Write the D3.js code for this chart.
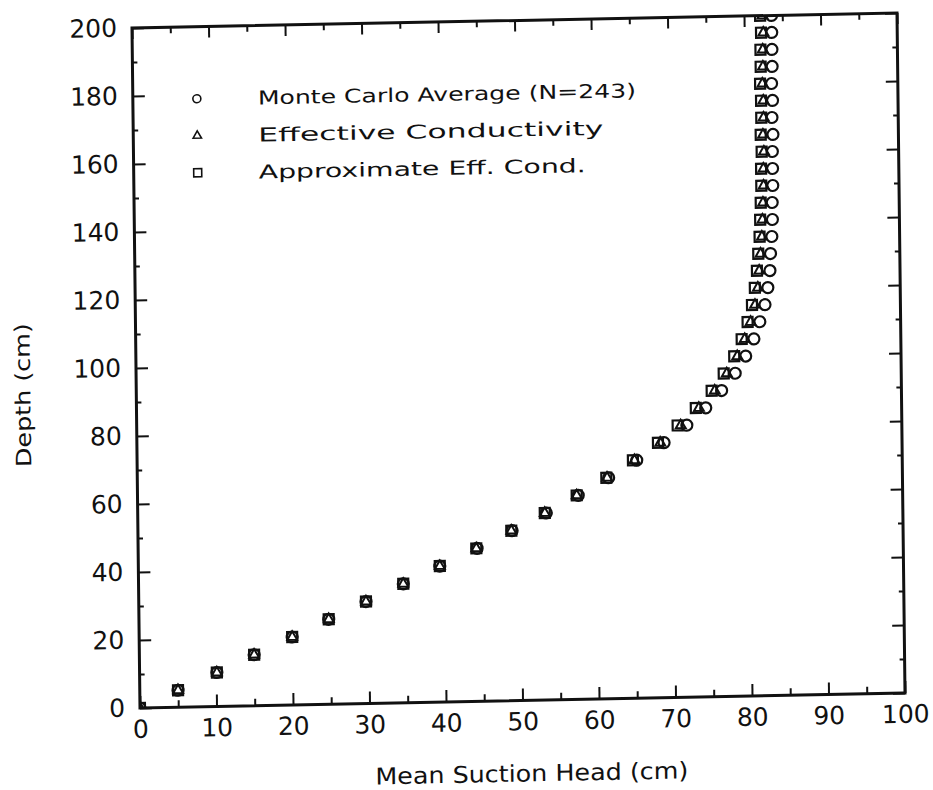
<!DOCTYPE html>
<html>
<head>
<meta charset="utf-8">
<script src="https://cdn.jsdelivr.net/npm/d3@7"></script>
<style>
  body { margin: 0; background: #fff; }
  text { font-family: "DejaVu Sans", sans-serif; fill: #111; }
</style>
</head>
<body>
<svg id="chart" width="933" height="790"></svg>
<script>

// depth (cm) of each simulated node
const depth = [0, 5, 10, 15, 20, 25, 30, 35, 40, 45, 50, 55, 60, 65, 70, 75, 80, 85, 90, 95, 100,
               105, 110, 115, 120, 125, 130, 135, 140, 145, 150, 155, 160, 165, 170, 175, 180, 185, 190, 195, 200];

// mean suction head (cm) for each series
const monteCarlo = [0, 5.0, 10.1, 15.0, 20.0, 24.8, 29.7, 34.6, 39.4, 44.3, 48.9, 53.4, 57.6, 61.6, 65.3, 68.9, 71.9, 74.4, 76.5, 78.3, 79.7,
                    80.8, 81.6, 82.3, 82.7, 83.0, 83.1, 83.3, 83.4, 83.4, 83.5, 83.5, 83.5, 83.6, 83.5, 83.6, 83.5, 83.6, 83.6, 83.6, 83.6];
const effCond    = [0, 5.0, 10.1, 15.0, 20.0, 24.8, 29.7, 34.6, 39.4, 44.2, 48.8, 53.2, 57.4, 61.4, 65.0, 68.4, 71.1, 73.5, 75.6, 77.2, 78.6,
                    79.6, 80.4, 81.0, 81.4, 81.6, 81.8, 82.0, 82.1, 82.2, 82.3, 82.3, 82.4, 82.3, 82.4, 82.4, 82.3, 82.4, 82.4, 82.5, 82.4];
const approxEff  = [0, 5.0, 10.1, 15.0, 20.0, 24.8, 29.7, 34.6, 39.4, 44.2, 48.8, 53.2, 57.4, 61.3, 64.8, 68.1, 70.7, 73.1, 75.2, 76.8, 78.2,
                    79.2, 80.0, 80.6, 81.0, 81.3, 81.5, 81.7, 81.8, 81.9, 82.0, 82.0, 82.1, 82.0, 82.1, 82.1, 82.0, 82.1, 82.1, 82.2, 82.1];

const xTicks = [0, 10, 20, 30, 40, 50, 60, 70, 80, 90, 100];
const xMinor = [5, 15, 25, 35, 45, 55, 65, 75, 85, 95];
const yTicks = [0, 20, 40, 60, 80, 100, 120, 140, 160, 180, 200];
const yMinor = [10, 30, 50, 70, 90, 110, 130, 150, 170, 190];
const legendLabels = ["Monte Carlo Average (N=243)", "Effective Conductivity", "Approximate Eff. Cond."];

let svg = d3.select("svg#chart");
let chartWidth = 765;
let chartHeight = 680;

// the scanned figure sits slightly skewed on the page
let g = svg.append("g").attr("transform", "matrix(1,-0.0196,0.01176,1,132,28)");

let xScale = d3.scaleLinear().domain([0, 100]).range([0, chartWidth]);
let yScale = d3.scaleLinear().domain([0, 200]).range([chartHeight, 0]);

function styleAxis(sel) {
  sel.select(".domain").remove();
  sel.selectAll("line").attr("stroke", "#111").attr("stroke-width", 2);
  sel.selectAll("text").style("font-size", "25px").attr("fill", "#111");
}

// bottom
g.append("g").attr("transform", "translate(0," + chartHeight + ")")
  .call(d3.axisBottom(xScale).tickValues(xTicks).tickSize(-12).tickPadding(12))
  .call(styleAxis);
g.append("g").attr("transform", "translate(0," + chartHeight + ")")
  .call(d3.axisBottom(xScale).tickValues(xMinor).tickSize(-7).tickFormat(""))
  .call(styleAxis);
// top
g.append("g")
  .call(d3.axisTop(xScale).tickValues(xTicks).tickSize(-11).tickFormat(""))
  .call(styleAxis);
g.append("g")
  .call(d3.axisTop(xScale).tickValues(xMinor).tickSize(-6).tickFormat(""))
  .call(styleAxis);
// left
g.append("g")
  .call(d3.axisLeft(yScale).tickValues(yTicks).tickSize(-12).tickPadding(15))
  .call(styleAxis);
g.append("g")
  .call(d3.axisLeft(yScale).tickValues(yMinor).tickSize(-5).tickFormat(""))
  .call(styleAxis);
// right
g.append("g").attr("transform", "translate(" + chartWidth + ",0)")
  .call(d3.axisRight(yScale).tickValues(yTicks).tickSize(-12).tickFormat(""))
  .call(styleAxis);
g.append("g").attr("transform", "translate(" + chartWidth + ",0)")
  .call(d3.axisRight(yScale).tickValues(yMinor).tickSize(-5).tickFormat(""))
  .call(styleAxis);

g.append("rect")
  .attr("x", 0).attr("y", 0)
  .attr("width", chartWidth).attr("height", chartHeight)
  .attr("fill", "none").attr("stroke", "#111").attr("stroke-width", 3);

g.append("clipPath").attr("id", "plotclip")
  .append("rect").attr("width", chartWidth).attr("height", chartHeight);

let marks = g.append("g").attr("clip-path", "url(#plotclip)");
let tri = d3.symbol().type(d3.symbolTriangle).size(42);

for (let i = 0; i < depth.length; i++) {
  marks.append("rect")
    .attr("x", xScale(approxEff[i]) - 5)
    .attr("y", yScale(depth[i]) - 5)
    .attr("width", 10).attr("height", 10)
    .attr("fill", "none").attr("stroke", "#111").attr("stroke-width", 2.2);

  marks.append("path")
    .attr("d", tri())
    .attr("transform", "translate(" + xScale(effCond[i]) + "," + yScale(depth[i]) + ")")
    .attr("fill", "none").attr("stroke", "#111").attr("stroke-width", 2);

  marks.append("circle")
    .attr("cx", xScale(monteCarlo[i]))
    .attr("cy", yScale(depth[i]))
    .attr("r", 5.5)
    .attr("fill", "none").attr("stroke", "#111").attr("stroke-width", 2.2);
}

// legend
let legendWidths = [378, 345, 327];
let legendY = [72, 109, 146];
let lg = g.append("g");
lg.append("circle").attr("cx", 64).attr("cy", legendY[0]).attr("r", 4)
  .attr("fill", "none").attr("stroke", "#111").attr("stroke-width", 1.6);
lg.append("path").attr("d", d3.symbol().type(d3.symbolTriangle).size(30)())
  .attr("transform", "translate(64," + legendY[1] + ")")
  .attr("fill", "none").attr("stroke", "#111").attr("stroke-width", 1.6);
lg.append("rect").attr("x", 60).attr("y", legendY[2] - 4).attr("width", 8).attr("height", 8)
  .attr("fill", "none").attr("stroke", "#111").attr("stroke-width", 1.6);
for (let i = 0; i < legendLabels.length; i++) {
  lg.append("text")
    .attr("x", 125).attr("y", legendY[i] + 7)
    .attr("textLength", legendWidths[i]).attr("lengthAdjust", "spacingAndGlyphs")
    .style("font-size", "19px")
    .text(legendLabels[i]);
}

// axis titles
g.append("text")
  .attr("x", 391).attr("y", 761)
  .attr("text-anchor", "middle")
  .attr("textLength", 313).attr("lengthAdjust", "spacingAndGlyphs")
  .style("font-size", "23px")
  .text("Mean Suction Head (cm)");

g.append("text")
  .attr("transform", "translate(-106,365) rotate(-90)")
  .attr("text-anchor", "middle")
  .attr("textLength", 144).attr("lengthAdjust", "spacingAndGlyphs")
  .style("font-size", "21px")
  .text("Depth (cm)");

</script>
</body>
</html>
